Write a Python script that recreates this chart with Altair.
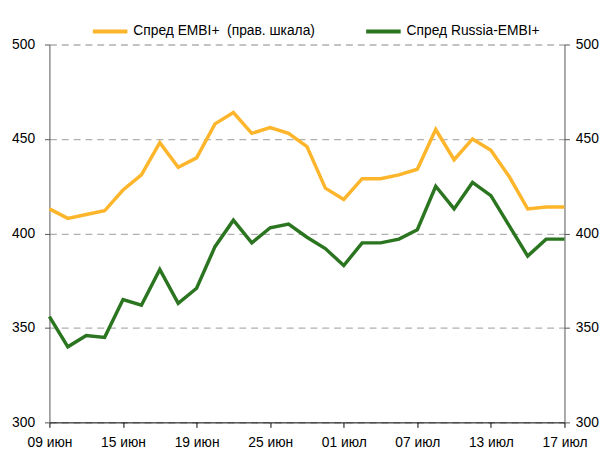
import altair as alt
import pandas as pd

tick_labels = ["09 июн", "15 июн", "19 июн", "25 июн", "01 июл", "07 июл", "13 июл", "17 июл"]
series_names = ["Спред EMBI+\u00a0 (прав. шкала)", "Спред Russia-EMBI+"]
series_colors = ["#FDB52B", "#2B7520"]

embi = [413, 408, 410, 412, 423, 431, 448, 435, 440, 458, 464, 453, 456, 453, 446,
        424, 418, 429, 429, 431, 434, 455, 439, 450, 444, 430, 413, 414, 414]
russia = [356, 340, 346, 345, 365, 362, 381, 363, 371, 393, 407, 395, 403, 405, 398,
          392, 383, 395, 395, 397, 402, 425, 413, 427, 420, 404, 388, 397, 397]

n = len(embi)
df = pd.DataFrame({
    "idx": list(range(n)) * 2,
    "value": embi + russia,
    "series": [series_names[0]] * n + [series_names[1]] * n,
})

FONT = "Liberation Sans, Arial"
FS = 14

label_expr = "[" + ",".join("'" + l + "'" for l in tick_labels) + "][round(datum.value/4)]"

x = alt.X(
    "idx:Q",
    scale=alt.Scale(domain=[0, n - 1], nice=False, zero=False),
    axis=alt.Axis(
        values=list(range(0, n, 4)), labelExpr=label_expr, title=None, grid=False,
        domainColor="#000000", tickColor="#000000", tickSize=5, labelPadding=8,
        labelFontSize=FS, labelFont=FONT, labelColor="#000000", labelFlush=False,
    ),
)

yscale = alt.Scale(domain=[300, 500], nice=False, zero=False)

color = alt.Color(
    "series:N",
    scale=alt.Scale(domain=series_names, range=series_colors),
    legend=alt.Legend(
        orient="none", legendX=42, legendY=-33, direction="horizontal", title=None,
        symbolType="stroke", symbolSize=1225, symbolStrokeWidth=4, labelOffset=4,
        labelFontSize=FS, labelFont=FONT, labelColor="#000000", labelLimit=400,
        columnPadding=43, padding=0,
    ),
)

left = alt.Chart(df).mark_line(strokeWidth=3.5).encode(
    x=x,
    y=alt.Y("value:Q", scale=yscale, axis=alt.Axis(
        orient="left", values=[300, 350, 400, 450, 500], title=None,
        grid=True, gridColor="#B0B0B0", gridDash=[7, 5], gridWidth=1.3,
        domainColor="#555555", tickColor="#555555", tickSize=5, labelPadding=10,
        labelFontSize=FS, labelFont=FONT, labelColor="#000000",
    )),
    color=color,
)

right = alt.Chart(df).mark_line(strokeWidth=3.5, opacity=0).encode(
    x=x,
    y=alt.Y("value:Q", scale=yscale, axis=alt.Axis(
        orient="right", values=[300, 350, 400, 450, 500], title=None, grid=False,
        domainColor="#555555", tickColor="#555555", tickSize=5, labelPadding=6,
        labelFontSize=FS, labelFont=FONT, labelColor="#000000",
    )),
)

chart = alt.layer(left, right).resolve_scale(y="independent").properties(
    width=522, height=383,
    autosize=alt.AutoSizeParams(type="none"),
    padding={"left": 42, "top": 34, "right": 36, "bottom": 26},
).configure_view(stroke=None).configure_axis(gridCap="butt")

chart.save("out.html", embed_options={"renderer": "svg", "actions": False})
